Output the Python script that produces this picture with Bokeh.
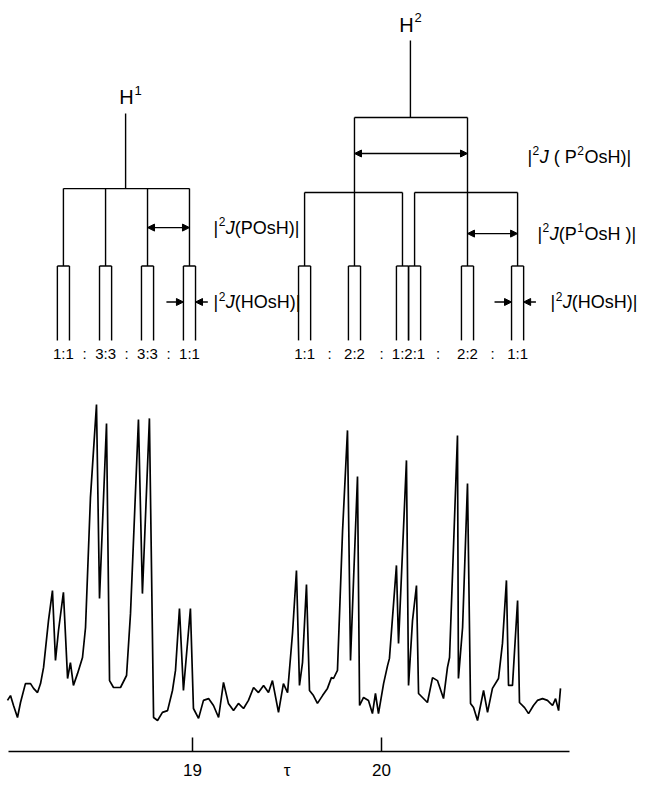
from bokeh.plotting import figure
from bokeh.models import Range1d, FixedTicker, Arrow, NormalHead
from bokeh.core.properties import value
from bokeh.embed import file_html
from bokeh.resources import INLINE

# ---------------- spectrum (tau scale, arbitrary intensity) ----------------
tau = [18.021, 18.037, 18.053, 18.074, 18.090, 18.116, 18.143, 18.159, 18.180, 18.196,
       18.212, 18.238, 18.259, 18.275, 18.291, 18.317, 18.339, 18.354, 18.370, 18.392,
       18.418, 18.434, 18.460, 18.492, 18.508, 18.545, 18.561, 18.582, 18.619, 18.651,
       18.672, 18.714, 18.735, 18.772, 18.794, 18.815, 18.841, 18.868, 18.894, 18.910,
       18.931, 18.952, 18.989, 19.005, 19.032, 19.058, 19.085, 19.111, 19.138, 19.164,
       19.190, 19.217, 19.243, 19.270, 19.296, 19.323, 19.349, 19.376, 19.402, 19.423,
       19.455, 19.481, 19.503, 19.529, 19.550, 19.566, 19.582, 19.603, 19.619, 19.640,
       19.661, 19.688, 19.714, 19.735, 19.746, 19.767, 19.794, 19.820, 19.836, 19.852,
       19.873, 19.884, 19.905, 19.931, 19.952, 19.968, 19.984, 20.011, 20.032, 20.042,
       20.079, 20.090, 20.132, 20.143, 20.164, 20.185, 20.196, 20.243, 20.270, 20.296,
       20.328, 20.349, 20.360, 20.402, 20.407, 20.429, 20.455, 20.471, 20.487, 20.508,
       20.540, 20.561, 20.587, 20.619, 20.640, 20.661, 20.672, 20.693, 20.720, 20.730,
       20.757, 20.778, 20.804, 20.825, 20.852, 20.878, 20.905, 20.921, 20.937, 20.947]

intensity = [6.7, 8.3, 5.0, 1.0, 6.0, 12.3, 12.3, 10.7, 9.3, 12.3,
             17.7, 33.3, 43.3, 20.0, 30.0, 42.7, 14.0, 19.3, 11.7, 15.7,
             21.0, 31.0, 74.3, 105.3, 40.7, 99.0, 13.3, 11.0, 11.0, 15.0,
             35.7, 100.3, 42.3, 100.7, 1.0, 0.0, 2.7, 3.3, 10.0, 16.7,
             37.3, 10.0, 37.3, 4.0, 0.7, 6.7, 7.3, 5.0, 1.0, 12.7,
             5.7, 3.3, 5.7, 4.0, 6.7, 11.0, 9.3, 11.7, 9.3, 13.3,
             2.7, 12.3, 9.3, 29.0, 50.0, 11.7, 19.3, 45.3, 10.0, 8.3,
             5.7, 8.3, 10.7, 14.3, 14.0, 16.7, 63.3, 96.7, 20.0, 46.7,
             81.3, 5.0, 7.7, 6.7, 2.3, 9.0, 2.3, 12.3, 18.3, 20.7,
             51.7, 25.7, 86.7, 11.7, 33.3, 45.0, 9.0, 6.0, 14.3, 13.3,
             7.3, 17.7, 21.0, 95.0, 14.0, 31.0, 79.0, 5.7, 4.3, 0.0,
             10.0, 2.7, 10.7, 14.0, 25.7, 46.7, 11.7, 11.7, 40.0, 6.0,
             4.3, 2.3, 5.0, 6.7, 7.3, 6.7, 5.0, 7.3, 3.3, 10.7]

# axis ticks
tick_values = [19, 20]
tick_labels = ["19", "20"]
axis_symbol = "τ"
axis_symbol_pos = 19.5

# ---------------- splitting diagrams (tau positions) ----------------
h1_center = 18.646
h1_lines = [18.317, 18.540, 18.762, 18.984]
h1_ratios = ["1:1", "3:3", "3:3", "1:1"]

h2_center = 20.153
h2_p2_lines = [19.857, 20.455]
h2_p1_left = [19.593, 20.111]
h2_p1_right = [20.175, 20.720]
h2_lines = [19.593, 19.857, 20.111, 20.175, 20.455, 20.720]
h2_ratio_pos = [19.593, 19.857, 20.143, 20.455, 20.720]
h2_ratios = ["1:1", "2:2", "1:2:1", "2:2", "1:1"]

j_hosh_half = 0.032  # half of the H-Os-H doublet splitting

# coupling-constant labels: pieces (text, style) n=normal, s=superscript, i=italic, g=gap
lab_posh = [("|", "n"), ("2", "s"), ("J", "i"), ("(POsH)|", "n")]
lab_hosh = [("|", "n"), ("2", "s"), ("J", "i"), ("(HOsH)|", "n")]
lab_p2 = [("|", "n"), ("2", "s"), ("J", "i"), (" ", "g"), ("( P", "n"), ("2", "s"), ("OsH)|", "n")]
lab_p1 = [("|", "n"), ("2", "s"), ("J", "i"), ("(P", "n"), ("1", "s"), ("OsH )|", "n")]

# ---------------- layout constants (vertical levels, styles) ----------------
FONT = "Liberation Sans"
LW = 1.4
Y_RATIO = 122.5
RECT_TOP, RECT_BOT = 151.5, 126.7
H1_LABEL_Y, H1_STEM_TOP, H1_BAR = 207.7, 202.3, 177.3
H2_LABEL_Y, H2_STEM_TOP, H2_BAR, H2_SUB = 232.0, 226.7, 201.0, 176.0
Y_POSH, Y_P2, Y_P1, Y_HOSH = 164.3, 189.0, 162.3, 139.5

p = figure(width=645, height=785, output_backend="svg", toolbar_location=None,
           tools="", x_range=Range1d(17.9841, 21.3968), y_range=Range1d(-10.333, 240.0),
           y_axis_location=None, min_border_left=0, min_border_right=0,
           min_border_top=0, min_border_bottom=34)
p.xgrid.visible = False
p.ygrid.visible = False
p.outline_line_color = None
p.background_fill_color = "white"
p.border_fill_color = "white"

# spectrum
p.line(tau, intensity, line_color="black", line_width=1.7)

# x axis
ax = p.xaxis[0]
ax.bounds = (18.0265, 20.995)
ax.ticker = FixedTicker(ticks=tick_values + [axis_symbol_pos], minor_ticks=tick_values)
overrides = {t: l for t, l in zip(tick_values, tick_labels)}
overrides[axis_symbol_pos] = axis_symbol
ax.major_label_overrides = overrides
ax.major_tick_in = 0
ax.major_tick_out = 0
ax.minor_tick_in = 14
ax.minor_tick_out = 0
ax.minor_tick_line_width = 1.5
ax.minor_tick_line_color = "black"
ax.axis_line_width = 1.5
ax.axis_line_color = "black"
ax.major_label_text_font = FONT
ax.major_label_text_font_size = "17px"
ax.major_label_text_color = "black"
ax.major_label_standoff = 9

# ---------------- tree segments ----------------
x0, y0, x1, y1 = [], [], [], []

def seg(a, b, c, d):
    x0.append(a); y0.append(b); x1.append(c); y1.append(d)

def rect(xc):
    seg(xc - j_hosh_half, RECT_TOP, xc + j_hosh_half, RECT_TOP)
    seg(xc - j_hosh_half, RECT_TOP, xc - j_hosh_half, RECT_BOT)
    seg(xc + j_hosh_half, RECT_TOP, xc + j_hosh_half, RECT_BOT)

# H1
seg(h1_center, H1_STEM_TOP, h1_center, H1_BAR)
seg(min(h1_lines), H1_BAR, max(h1_lines), H1_BAR)
for xl in h1_lines:
    seg(xl, H1_BAR, xl, RECT_TOP)
    rect(xl)

# H2
seg(h2_center, H2_STEM_TOP, h2_center, H2_BAR)
seg(h2_p2_lines[0], H2_BAR, h2_p2_lines[1], H2_BAR)
for xl in h2_p2_lines:
    seg(xl, H2_BAR, xl, RECT_TOP)
for grp in (h2_p1_left, h2_p1_right):
    seg(grp[0], H2_SUB, grp[1], H2_SUB)
    for xl in grp:
        seg(xl, H2_SUB, xl, RECT_TOP)
for xl in h2_lines:
    rect(xl)

p.segment(x0=x0, y0=y0, x1=x1, y1=y1, line_color="black", line_width=LW)

# ---------------- arrows ----------------
def head():
    return NormalHead(size=7, fill_color="black", line_color="black", line_width=1)

def arrow(xs, ys, xe, ye, both=False):
    p.add_layout(Arrow(x_start=xs, y_start=ys, x_end=xe, y_end=ye,
                       start=head() if both else None, end=head(),
                       line_color="black", line_width=LW))

arrow(h1_lines[2], Y_POSH, h1_lines[3], Y_POSH, both=True)
arrow(h2_p2_lines[0], Y_P2, h2_p2_lines[1], Y_P2, both=True)
arrow(h2_p2_lines[1], Y_P1, h2_p1_right[1], Y_P1, both=True)

for xc in (h1_lines[3], h2_lines[5]):
    arrow(xc - j_hosh_half - 0.09, Y_HOSH, xc - j_hosh_half, Y_HOSH)
    arrow(xc + j_hosh_half + 0.065, Y_HOSH, xc + j_hosh_half, Y_HOSH)

# ---------------- texts ----------------
def txt(xs, ys, ts, size, align="center", style="normal", xo=0, yo=0):
    p.text(x=xs, y=ys, text=ts, text_font=value(FONT), text_font_size=size,
           text_align=align, text_baseline="middle", text_color="black",
           text_font_style=style, x_offset=xo, y_offset=yo)

EM = {"|": 0.26, "(": 0.333, ")": 0.333, " ": 0.278, "P": 0.667, "O": 0.778,
      "s": 0.5, "H": 0.722, "J": 0.5}
BASE, SUP = 18, 12

def rich(x, y, pieces):
    off = 0.0
    for t, st in pieces:
        if st == "s":
            txt([x], [y], [t], f"{SUP}px", align="left", xo=off + 0.5, yo=-6)
            off += 0.556 * SUP + 1.0
        elif st == "g":
            off += sum(EM.get(c, 0.556) for c in t) * BASE
        else:
            txt([x], [y], [t], f"{BASE}px", align="left",
                style="italic" if st == "i" else "normal", xo=off)
            off += sum(EM.get(c, 0.556) for c in t) * BASE

# H labels
for xc, yc, sup in ((h1_center + 0.01, H1_LABEL_Y, "1"), (h2_center - 0.015, H2_LABEL_Y, "2")):
    txt([xc], [yc], ["H"], "20px", xo=-1)
    txt([xc], [yc], [sup], "13px", align="left", xo=7, yo=-7)

rich(19.111, Y_POSH, lab_posh)
rich(19.111, Y_HOSH, lab_hosh)
rich(20.772, Y_P2 - 1.0, lab_p2)
rich(20.825, Y_P1, lab_p1)
rich(20.894, Y_HOSH, lab_hosh)

# ratio labels
rx, ry, rt = [], [], []
for pos_list, labels in ((h1_lines, h1_ratios), (h2_ratio_pos, h2_ratios)):
    for i, (xp, lab) in enumerate(zip(pos_list, labels)):
        rx.append(xp); ry.append(Y_RATIO); rt.append(lab)
        if i < len(pos_list) - 1:
            rx.append((xp + pos_list[i + 1]) / 2); ry.append(Y_RATIO); rt.append(":")
txt(rx, ry, rt, "15px")

open("out.html", "w").write(file_html(p, INLINE))
